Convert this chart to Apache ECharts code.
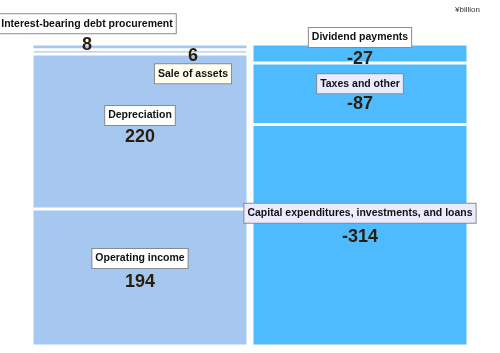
<!DOCTYPE html>
<html>
<head>
<meta charset="utf-8">
<script src="https://cdn.jsdelivr.net/npm/echarts@6/dist/echarts.min.js"></script>
<style>html,body{margin:0;padding:0;background:#fff;}#c{width:500px;height:353px;}</style>
</head>
<body>
<div id="c"></div>
<script>
const categories = ['Sources', 'Uses'];
const sourceNames = ['Operating income', 'Depreciation', 'Sale of assets', 'Interest-bearing debt procurement'];
const sourceValues = [194, 220, 6, 8];
const useNames = ['Capital expenditures, investments, and loans', 'Taxes and other', 'Dividend payments'];
const useValues = [-314, -87, -27];
const unitLabel = '¥billion';

const leftColor = '#A6C8F0';
const rightColor = '#4FBBFF';

const boxFont = 'Liberation Sans, Arial, sans-serif';
const boxBase = {fontFamily: boxFont, fontWeight: 'bold', fontSize: 10.5, color: '#111',
  borderColor: '#8a8a8a', borderWidth: 1, padding: [4, 3, 4, 3]};
const valBase = {fontFamily: 'Liberation Sans, Arial, sans-serif', fontWeight: 'bold', fontSize: 18, color: '#2B1D0E'};
const rich = {
  n: Object.assign({}, boxBase, {backgroundColor: '#fff'}),
  nc: Object.assign({}, boxBase, {backgroundColor: '#FFFFEE'}),
  nl: Object.assign({}, boxBase, {backgroundColor: '#EBEBFF'}),
  v: Object.assign({}, valBase, {padding: [3, 0, 0, 0]}),
  vs: Object.assign({}, valBase, {padding: [1, 0, 0, 0]}),
  vg: Object.assign({}, valBase, {padding: [7, 0, 0, 0]}),
  vt: Object.assign({}, valBase, {padding: [0, 0, 0, 0], lineHeight: 16})
};

// label layout per segment (styling only)
const srcLabelCfg = [
  {fmt: (n, v) => '{n|' + n + '}\n{vg|' + v + '}', dx: 0, dy: -9},
  {fmt: (n, v) => '{n|' + n + '}\n{v|' + v + '}', dx: 0, dy: -6},
  {fmt: (n, v) => '{vt|' + v + '}\n{nc|' + n + '}', dx: 53, dy: 14},
  {fmt: (n, v) => '{n|' + n + '}\n{v|' + v + '}', dx: -53, dy: -13}
];
const useLabelCfg = [
  {fmt: (n, v) => '{nl|' + n + '}\n{vg|' + v + '}', dx: 0, dy: -12},
  {fmt: (n, v) => '{nl|' + n + '}\n{vs|' + v + '}', dx: 0, dy: 0},
  {fmt: (n, v) => '{n|' + n + '}\n{v|' + v + '}', dx: 0, dy: -6}
];

const series = [];
sourceNames.forEach((name, i) => {
  const val = sourceValues[i];
  const cfg = srcLabelCfg[i];
  series.push({
    type: 'bar', stack: 'total', name: name, barWidth: 216,
    data: [val, '-'],
    itemStyle: {color: leftColor, borderColor: '#fff', borderWidth: 1.5},
    label: {show: true, position: 'inside', rich: rich,
            formatter: () => cfg.fmt(name, val), lineHeight: 20},
    labelLayout: {dx: cfg.dx, dy: cfg.dy, hideOverlap: false},
    silent: true
  });
});
useNames.forEach((name, i) => {
  const val = useValues[i];
  const cfg = useLabelCfg[i];
  series.push({
    type: 'bar', stack: 'total', name: name, barWidth: 216,
    data: ['-', Math.abs(val)],
    itemStyle: {color: rightColor, borderColor: '#fff', borderWidth: 1.5},
    label: {show: true, position: 'inside', rich: rich,
            formatter: () => cfg.fmt(name, val), lineHeight: 20},
    labelLayout: {dx: cfg.dx, dy: cfg.dy, hideOverlap: false},
    silent: true
  });
});

const chart = echarts.init(document.getElementById('c'), null, {renderer: 'canvas'});
chart.setOption({
  animation: false,
  backgroundColor: '#fff',
  grid: {left: 30, right: 30, top: 44, bottom: 7, containLabel: false},
  xAxis: {type: 'category', data: categories, show: false},
  yAxis: {type: 'value', min: 0, max: 428, show: false},
  graphic: [{type: 'text', left: 455, top: 6,
    style: {text: unitLabel, fontSize: 8, fill: '#333', fontFamily: 'Liberation Sans, Arial, sans-serif'}}],
  series: series
});
</script>
</body>
</html>
